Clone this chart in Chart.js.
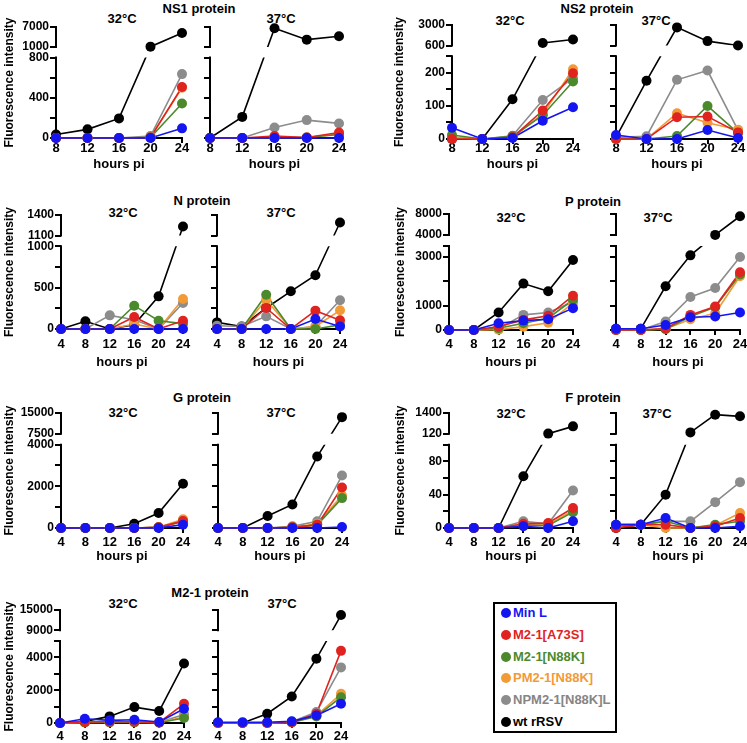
<!DOCTYPE html>
<html>
<head>
<meta charset="utf-8">
<script src="https://cdn.jsdelivr.net/npm/chart.js@4.4.1/dist/chart.umd.min.js"></script>
<style>
  body { margin: 0; background: #fff; width: 747px; height: 743px; overflow: hidden; position: relative;
         font-family: 'Liberation Sans', Arial, sans-serif; font-weight: bold; color: #000; }
  canvas { position: absolute; }
  .lbl { position: absolute; font-size: 13px; white-space: nowrap; transform: translate(-50%, -50%); }
  #legend { position: absolute; left: 493px; top: 602px; width: 120px; height: 127px; border: 2px solid #000; }
  #legend .item { position: absolute; left: 6px; font-size: 13px; white-space: nowrap; height: 16px; line-height: 16px; }
  #legend .dot { display: inline-block; width: 10px; height: 10px; border-radius: 50%; margin-right: 2px; vertical-align: -1px; }
</style>
</head>
<body>
<div id="legend"></div>
<script>
// series (legend order)
const seriesNames = ['Min L', 'M2-1[A73S]', 'M2-1[N88K]', 'PM2-1[N88K]', 'NPM2-1[N88K]L', 'wt rRSV'];
const seriesColors = ['#1515f2', '#e0231f', '#4b8a2c', '#f29a36', '#8c8c8c', '#000000'];

// NS1 protein
const ns1Hours = [8, 12, 16, 20, 24];
const ns1LowTicks = [0, 200, 400, 600, 800];
const ns1LowLabels = [0, 400, 800];
const ns1HighTicks = [1000, 7000];
const ns1_32_minL = [0, 0, 0, 0, 96];
const ns1_32_a73s = [0, 0, 0, 5, 507];
const ns1_32_n88k = [0, 0, 0, 5, 343];
const ns1_32_pm2  = [0, 0, 0, 5, 500];
const ns1_32_npm2 = [0, 0, 0, 20, 635];
const ns1_32_wt   = [35, 86, 195, 1100, 5200];
const ns1_37_minL = [0, 0, 0, 0, 0];
const ns1_37_a73s = [0, 0, 20, 5, 55];
const ns1_37_n88k = [0, 0, 5, 5, 35];
const ns1_37_pm2  = [0, 0, 5, 5, 40];
const ns1_37_npm2 = [0, 0, 105, 178, 145];
const ns1_37_wt   = [0, 210, 6600, 3200, 4200];

// NS2 protein
const ns2Hours = [8, 12, 16, 20, 24];
const ns2LowTicks = [0, 50, 100, 150, 200, 250];
const ns2LowLabels = [0, 100, 200];
const ns2HighTicks = [600, 3000];
const ns2_32_minL = [34, 0, 3, 55, 96];
const ns2_32_a73s = [0, 0, 5, 86, 199];
const ns2_32_n88k = [12, 0, 8, 72, 174];
const ns2_32_pm2  = [5, 0, 5, 75, 211];
const ns2_32_npm2 = [5, 0, 10, 118, 184];
const ns2_32_wt   = [0, 0, 120, 900, 1300];
const ns2_37_minL = [12, 0, 0, 27, 3];
const ns2_37_a73s = [0, 0, 66, 68, 20];
const ns2_37_n88k = [0, 0, 9, 100, 18];
const ns2_37_pm2  = [0, 0, 78, 49, 28];
const ns2_37_npm2 = [5, 8, 179, 207, 27];
const ns2_37_wt   = [5, 176, 2720, 1116, 600];

// N protein
const nHours = [4, 8, 12, 16, 20, 24];
const nLowTicks = [0, 250, 500, 750, 1000];
const nLowLabels = [0, 500, 1000];
const nHighTicks = [1100, 1400];
const n_32_minL = [0, 0, 0, 0, 0, 0];
const n_32_a73s = [0, 0, 0, 145, 0, 100];
const n_32_n88k = [0, 0, 0, 282, 100, 65];
const n_32_pm2  = [0, 0, 0, 60, 0, 363];
const n_32_npm2 = [0, 0, 165, 113, 0, 315];
const n_32_wt   = [0, 93, 0, 52, 395, 1233];
const n_37_minL = [0, 0, 0, 0, 121, 30];
const n_37_a73s = [0, 0, 254, 0, 222, 105];
const n_37_n88k = [0, 0, 415, 0, 0, 50];
const n_37_pm2  = [0, 0, 355, 0, 30, 226];
const n_37_npm2 = [40, 30, 153, 0, 30, 347];
const n_37_wt   = [80, 30, 254, 456, 650, 1290];

// P protein
const pHours = [4, 8, 12, 16, 20, 24];
const pLowTicks = [0, 1000, 2000, 3000, 3450];
const pLowLabels = [0, 1000, 3000];
const pHighTicks = [4000, 8000];
const p_32_minL = [0, 0, 276, 386, 441, 897];
const p_32_a73s = [0, 0, 140, 414, 580, 1407];
const p_32_n88k = [0, 0, 70, 276, 483, 1241];
const p_32_pm2  = [0, 0, 10, 138, 300, 1100];
const p_32_npm2 = [0, 0, 50, 620, 717, 1150];
const p_32_wt   = [0, 0, 717, 1903, 1586, 2869];
const p_37_minL = [50, 50, 207, 524, 552, 717];
const p_37_a73s = [0, 0, 60, 620, 966, 2372];
const p_37_n88k = [0, 0, 30, 552, 938, 2276];
const p_37_pm2  = [0, 0, 40, 441, 690, 2207];
const p_37_npm2 = [0, 0, 345, 1352, 1724, 2993];
const p_37_wt   = [50, 50, 1793, 3062, 4000, 7570];

// G protein
const gHours = [4, 8, 12, 16, 20, 24];
const gLowTicks = [0, 1000, 2000, 3000, 4000];
const gLowLabels = [0, 2000, 4000];
const gHighTicks = [7500, 15000];
const g_32_minL = [0, 0, 0, 0, 0, 160];
const g_32_a73s = [0, 0, 0, 0, 30, 330];
const g_32_n88k = [0, 0, 0, 0, 30, 318];
const g_32_pm2  = [0, 0, 0, 0, 30, 414];
const g_32_npm2 = [0, 0, 0, 0, 30, 366];
const g_32_wt   = [0, 0, 0, 207, 717, 2120];
const g_37_minL = [0, 0, 0, 0, 0, 50];
const g_37_a73s = [0, 0, 0, 30, 150, 1944];
const g_37_n88k = [0, 0, 0, 30, 150, 1434];
const g_37_pm2  = [0, 0, 0, 30, 200, 1562];
const g_37_npm2 = [0, 0, 0, 80, 320, 2518];
const g_37_wt   = [0, 0, 574, 1131, 3426, 13500];

// F protein
const fHours = [4, 8, 12, 16, 20, 24];
const fLowTicks = [0, 20, 40, 60, 80, 100];
const fLowLabels = [0, 40, 80];
const fHighTicks = [120, 1400];
const f_32_minL = [0, 0, 0, 2, 0, 8];
const f_32_a73s = [0, 0, 0, 5, 6, 24];
const f_32_n88k = [0, 0, 0, 3, 3, 19];
const f_32_pm2  = [0, 0, 0, 5, 4, 21];
const f_32_npm2 = [0, 0, 0, 8, 5, 45];
const f_32_wt   = [0, 0, 0, 62, 125, 574];
const f_37_minL = [4, 4, 12, 0, 0, 2];
const f_37_a73s = [0, 4, 4, 0, 2, 12];
const f_37_n88k = [4, 4, 8, 0, 4, 8];
const f_37_pm2  = [2, 4, 0, 0, 3, 18];
const f_37_npm2 = [4, 4, 8, 8, 31, 55];
const f_37_wt   = [0, 4, 40, 200, 1297, 1194];

// M2-1 protein
const m21Hours = [4, 8, 12, 16, 20, 24];
const m21LowTicks = [0, 1000, 2000, 3000, 4000, 5000];
const m21LowLabels = [0, 2000, 4000];
const m21HighTicks = [9000, 15000];
const m21_32_minL = [0, 263, 162, 202, 60, 869];
const m21_32_a73s = [0, 60, 80, 80, 40, 1172];
const m21_32_n88k = [0, 30, 40, 40, 20, 303];
const m21_32_pm2  = [0, 40, 50, 50, 30, 364];
const m21_32_npm2 = [0, 50, 60, 60, 40, 525];
const m21_32_wt   = [0, 100, 404, 970, 727, 3636];
const m21_37_minL = [50, 50, 50, 100, 465, 1172];
const m21_37_a73s = [0, 0, 0, 50, 566, 4404];
const m21_37_n88k = [0, 0, 0, 30, 400, 1576];
const m21_37_pm2  = [0, 0, 0, 40, 450, 1778];
const m21_37_npm2 = [0, 0, 0, 80, 667, 3394];
const m21_37_wt   = [0, 0, 566, 1616, 3919, 13500];

const narrow = "'Liberation Sans Narrow', 'Liberation Sans', Arial, sans-serif";
const wide = "'Liberation Sans', Arial, sans-serif";
Chart.defaults.color = '#000';
Chart.defaults.font.family = wide;
Chart.defaults.font.weight = 'bold';

// y axis with a break: lower segment [0, lowMax], upper segment [highMin, max]
class BrokenScale extends Chart.LinearScale {
  static id = 'broken';
  static defaults = {};
  buildTicks() {
    return this.options.tickValues.map(v => ({ value: v }));
  }
  getPixelForValue(v) {
    const o = this.options, h = this.bottom - this.top;
    if (v >= o.highMin) {
      return this.top + h * o.topFrac * (1 - (v - o.highMin) / (o.max - o.highMin));
    }
    return this.bottom - h * (1 - o.lowFrac) * (v - o.min) / (o.lowMax - o.min);
  }
  getValueForPixel(px) {
    const o = this.options, h = this.bottom - this.top;
    const yHigh = this.top + h * o.topFrac;
    if (px <= yHigh) return o.highMin + (1 - (px - this.top) / (h * o.topFrac)) * (o.max - o.highMin);
    return o.min + (this.bottom - px) / (h * (1 - o.lowFrac)) * (o.lowMax - o.min);
  }
}
Chart.register(BrokenScale);

// axis line with a gap, and lines cut where they cross the gap
const brokenAxis = {
  id: 'brokenAxis',
  beforeDatasetsDraw(chart) {
    const ys = chart.scales.y, o = ys.options, ctx = chart.ctx, x = chart.chartArea.left;
    ctx.save();
    ctx.strokeStyle = '#000';
    ctx.lineWidth = 2;
    ctx.beginPath();
    ctx.moveTo(x, ys.getPixelForValue(o.max) - 1);
    ctx.lineTo(x, ys.getPixelForValue(o.highMin) + 1);
    ctx.moveTo(x, ys.getPixelForValue(o.lowMax) - 1);
    ctx.lineTo(x, ys.bottom + 1);
    ctx.stroke();
    ctx.restore();
  },
  beforeDatasetDraw(chart, args) {
    if (!chart.data.datasets[args.index].gapClip) return;
    const ys = chart.scales.y, o = ys.options, a = chart.chartArea, ctx = chart.ctx;
    const yHigh = ys.getPixelForValue(o.highMin), yLow = ys.getPixelForValue(o.lowMax);
    ctx.save();
    ctx.beginPath();
    ctx.rect(a.left - 10, a.top - 10, a.right - a.left + 20, yHigh - a.top + 10);
    ctx.rect(a.left - 10, yLow, a.right - a.left + 20, a.bottom - yLow + 10);
    ctx.clip();
  },
  afterDatasetDraw(chart, args) {
    if (chart.data.datasets[args.index].gapClip) chart.ctx.restore();
  }
};

const panels = [
  { name: 'NS1 protein', hours: ns1Hours, low: ns1LowTicks, lowLabels: ns1LowLabels, high: ns1HighTicks,
    s32: [ns1_32_minL, ns1_32_a73s, ns1_32_n88k, ns1_32_pm2, ns1_32_npm2, ns1_32_wt],
    s37: [ns1_37_minL, ns1_37_a73s, ns1_37_n88k, ns1_37_pm2, ns1_37_npm2, ns1_37_wt],
    left: [56, 182], right: [210, 339], yTop: 27, yBot: 138, tickY: 148, xTitleY: 164, ylabX: 9,
    titleX: 199, titleY: 8, tempY: 18, t32X: 122, t37X: 281 },
  { name: 'NS2 protein', hours: ns2Hours, low: ns2LowTicks, lowLabels: ns2LowLabels, high: ns2HighTicks,
    s32: [ns2_32_minL, ns2_32_a73s, ns2_32_n88k, ns2_32_pm2, ns2_32_npm2, ns2_32_wt],
    s37: [ns2_37_minL, ns2_37_a73s, ns2_37_n88k, ns2_37_pm2, ns2_37_npm2, ns2_37_wt],
    left: [452, 573], right: [616, 738], yTop: 25, yBot: 139, tickY: 148, xTitleY: 164, ylabX: 399,
    titleX: 597, titleY: 8, tempY: 20, t32X: 510, t37X: 656 },
  { name: 'N protein', hours: nHours, low: nLowTicks, lowLabels: nLowLabels, high: nHighTicks,
    s32: [n_32_minL, n_32_a73s, n_32_n88k, n_32_pm2, n_32_npm2, n_32_wt],
    s37: [n_37_minL, n_37_a73s, n_37_n88k, n_37_pm2, n_37_npm2, n_37_wt],
    left: [61, 183], right: [217, 340], yTop: 215, yBot: 329, tickY: 344, xTitleY: 362, ylabX: 9,
    titleX: 202, titleY: 200, tempY: 212, t32X: 123, t37X: 281 },
  { name: 'P protein', hours: pHours, low: pLowTicks, lowLabels: pLowLabels, high: pHighTicks,
    s32: [p_32_minL, p_32_a73s, p_32_n88k, p_32_pm2, p_32_npm2, p_32_wt],
    s37: [p_37_minL, p_37_a73s, p_37_n88k, p_37_pm2, p_37_npm2, p_37_wt],
    left: [449, 573], right: [616, 740], yTop: 214, yBot: 330, tickY: 344, xTitleY: 362, ylabX: 400,
    titleX: 593, titleY: 201, tempY: 217, t32X: 511, t37X: 658 },
  { name: 'G protein', hours: gHours, low: gLowTicks, lowLabels: gLowLabels, high: gHighTicks,
    s32: [g_32_minL, g_32_a73s, g_32_n88k, g_32_pm2, g_32_npm2, g_32_wt],
    s37: [g_37_minL, g_37_a73s, g_37_n88k, g_37_pm2, g_37_npm2, g_37_wt],
    left: [61, 183], right: [218, 342], yTop: 413, yBot: 528, tickY: 542, xTitleY: 556, ylabX: 9,
    titleX: 202, titleY: 397, tempY: 412, t32X: 123, t37X: 281 },
  { name: 'F protein', hours: fHours, low: fLowTicks, lowLabels: fLowLabels, high: fHighTicks,
    s32: [f_32_minL, f_32_a73s, f_32_n88k, f_32_pm2, f_32_npm2, f_32_wt],
    s37: [f_37_minL, f_37_a73s, f_37_n88k, f_37_pm2, f_37_npm2, f_37_wt],
    left: [449, 573], right: [616, 740], yTop: 413, yBot: 528, tickY: 542, xTitleY: 556, ylabX: 400,
    titleX: 593, titleY: 397, tempY: 413, t32X: 511, t37X: 657 },
  { name: 'M2-1 protein', hours: m21Hours, low: m21LowTicks, lowLabels: m21LowLabels, high: m21HighTicks,
    s32: [m21_32_minL, m21_32_a73s, m21_32_n88k, m21_32_pm2, m21_32_npm2, m21_32_wt],
    s37: [m21_37_minL, m21_37_a73s, m21_37_n88k, m21_37_pm2, m21_37_npm2, m21_37_wt],
    left: [60, 184], right: [218, 341], yTop: 610, yBot: 723, tickY: 736, xTitleY: 754, ylabX: 9,
    titleX: 210, titleY: 592, tempY: 603, t32X: 123, t37X: 282 }
];

function addLabel(text, x, y) {
  const d = document.createElement('div');
  d.className = 'lbl';
  d.textContent = text;
  d.style.left = x + 'px';
  d.style.top = y + 'px';
  document.body.appendChild(d);
}

function makeChart(p, isLeft) {
  const [x0, x1] = isLeft ? p.left : p.right;
  const yw = isLeft ? Math.round(x0 - p.ylabX + 7) : 8;
  const padTop = 10, padRight = 12;
  const xh = Math.round(p.xTitleY + 8 - p.yBot);
  const cv = document.createElement('canvas');
  const w = yw + (x1 - x0) + padRight, h = padTop + (p.yBot - p.yTop) + xh;
  cv.width = w; cv.height = h;
  cv.style.left = (x0 - yw) + 'px';
  cv.style.top = (p.yTop - padTop) + 'px';
  document.body.appendChild(cv);

  const vals = isLeft ? p.s32 : p.s37;
  const dots = vals.map((arr, i) => ({
    label: seriesNames[i],
    data: p.hours.map((hh, j) => ({ x: hh, y: arr[j] })),
    showLine: false, pointRadius: 5, pointBorderWidth: 0,
    pointBackgroundColor: seriesColors[i], order: 0, clip: false
  }));
  const lines = vals.map((arr, i) => ({
    label: seriesNames[i],
    data: p.hours.map((hh, j) => ({ x: hh, y: arr[j] })),
    borderColor: seriesColors[i], borderWidth: 1.6, pointRadius: 0,
    order: 1, clip: false, gapClip: true
  }));
  const shown = isLeft ? p.lowLabels.concat(p.high) : [];

  new Chart(cv, {
    type: 'line',
    data: { datasets: dots.concat(lines) },
    plugins: [brokenAxis],
    options: {
      responsive: false, animation: false, events: [],
      layout: { padding: { left: 0, right: padRight, top: padTop, bottom: 0 } },
      plugins: { legend: { display: false }, tooltip: { enabled: false } },
      scales: {
        x: {
          type: 'linear', min: p.hours[0], max: p.hours[p.hours.length - 1],
          afterBuildTicks: s => { s.ticks = p.hours.map(v => ({ value: v })); },
          afterFit: s => { s.height = xh; s.paddingLeft = 0; s.paddingRight = 0; },
          ticks: { autoSkip: false, maxRotation: 0, padding: p.tickY - p.yBot - 12,
                   font: { family: narrow, size: 13, weight: 'bold' }, color: '#000' },
          grid: { drawOnChartArea: false, color: '#000', lineWidth: 2, tickLength: 5 },
          border: { display: true, color: '#000', width: 2 },
          title: { display: true, text: 'hours pi', padding: 0, font: { family: wide, size: 13, weight: 'bold' } }
        },
        y: {
          type: 'broken', min: 0, max: p.high[1], lowMax: p.low[p.low.length - 1], highMin: p.high[0],
          topFrac: 0.18, lowFrac: 0.275, tickValues: p.low.concat(p.high),
          afterFit: s => { s.width = yw; s.paddingTop = 0; s.paddingBottom = 0; },
          ticks: { autoSkip: false, padding: 1, callback: v => shown.includes(v) ? String(v) : '',
                   font: { family: narrow, size: 12, weight: 'bold' }, color: '#000' },
          grid: { drawOnChartArea: false, color: '#000', lineWidth: 2, tickLength: 6 },
          border: { display: false },
          title: { display: isLeft, text: 'Fluorescence intensity', padding: 0,
                   font: { family: wide, size: 12, weight: 'bold' } }
        }
      }
    }
  });
}

panels.forEach(p => {
  addLabel(p.name, p.titleX, p.titleY);
  addLabel('32°C', p.t32X, p.tempY);
  addLabel('37°C', p.t37X, p.tempY);
  makeChart(p, true);
  makeChart(p, false);
});

// legend box
const legend = document.getElementById('legend');
seriesNames.forEach((name, i) => {
  const it = document.createElement('div');
  it.className = 'item';
  it.style.top = (1 + i * 21.8) + 'px';
  it.style.color = seriesColors[i] === '#8c8c8c' ? '#858585' : seriesColors[i];
  const dot = document.createElement('span');
  dot.className = 'dot';
  dot.style.background = seriesColors[i];
  it.appendChild(dot);
  it.appendChild(document.createTextNode(name));
  legend.appendChild(it);
});
</script>
</body>
</html>
